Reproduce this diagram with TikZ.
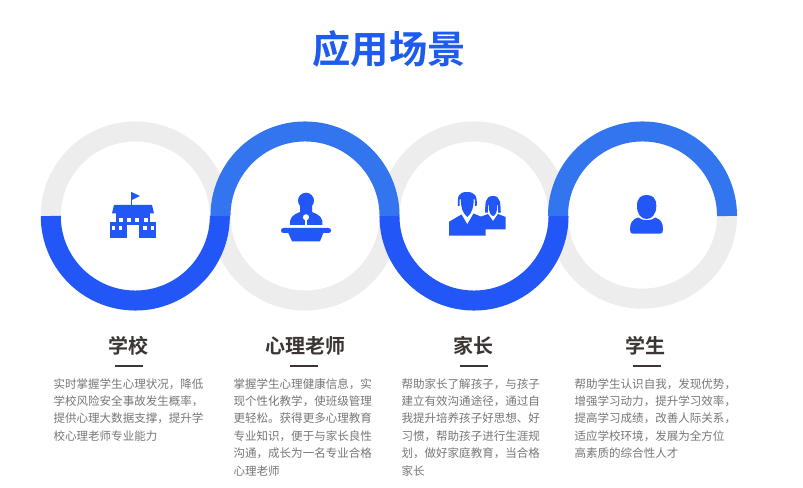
\documentclass[tikz,border=0pt]{standalone}
\usepackage{fontspec}
\setmainfont{Noto Sans CJK SC}
\newfontfamily\cjkbold[BoldFont={Noto Sans CJK SC Bold}]{Noto Sans CJK SC Bold}
\definecolor{deepblue}{HTML}{2356F6}
\definecolor{liteblue}{HTML}{3375EE}
\definecolor{ringgray}{HTML}{EDEDED}
\definecolor{bodygray}{HTML}{777777}
\definecolor{headdark}{HTML}{3B3533}
\definecolor{titleblue}{HTML}{1F5CEE}
\tikzset{
  ring/.style={line width=15pt,line cap=butt},
  bodytext/.style={anchor=north west,inner sep=0pt,align=left,text=bodygray,font=\fontsize{8.65}{13.05}\selectfont},
  headtext/.style={inner sep=0pt,text=headdark,font=\cjkbold\fontsize{15}{18}\selectfont},
  titletext/.style={inner sep=0pt,text=titleblue,font=\cjkbold\fontsize{28.7}{34}\selectfont},
  rulemark/.style={draw=headdark,line width=1.2pt},
  icon/.style={fill=deepblue,draw=none},
  iconcut/.style={fill=white,draw=none},
  iconslit/.style={draw=white,line width=0.55pt},
}
\newcommand{\topring}[2]{\draw[ring,#2] (#1) +(0:63.4pt) arc[start angle=0,end angle=180,radius=63.4pt];}
\newcommand{\botring}[2]{\draw[ring,#2] (#1) +(180:63.4pt) arc[start angle=180,end angle=360,radius=63.4pt];}
\begin{document}
\begin{tikzpicture}[x=0.75pt,y=-0.75pt]
\useasboundingbox (0,0) rectangle (803,488);
\fill[white] (0,0) rectangle (803,488);
\coordinate (c1) at (135.3,216);
\coordinate (c2) at (305,216);
\coordinate (c3) at (474,216);
\coordinate (c4) at (642.5,216);
% gray halves
\topring{c1}{ringgray}
\botring{c2}{ringgray}
\topring{c3}{ringgray}
\draw[ring,ringgray] (c4) +(180:63.4pt) arc[start angle=180,end angle=360,x radius=63.4pt,y radius=62pt];
% coloured halves
\botring{c1}{deepblue}
\topring{c2}{liteblue}
\botring{c3}{deepblue}
\topring{c4}{liteblue}

\node[titletext] (title) at (389,48.5) {应用场景};

% school icon
\fill[icon] (131,192.3) rectangle (132,205);
\fill[icon] (132,192.3) -- (140,196) -- (132,200) -- cycle;
\fill[icon] (114,205) -- (152,205) -- (154,213.3) -- (112,213.3) -- cycle;
\fill[icon] (116,213) rectangle (150,222);
\fill[icon] (110,221.7) rectangle (127,238.3);
\fill[icon] (139,221.7) rectangle (156,238.3);
\fill[icon] (127,221.7) rectangle (139,225);
\foreach \a in {118.7,127,135.3,143.7} \fill[iconcut] (\a,217.7) rectangle ++(4,4);
\foreach \a in {111.7,118.7,143.3,150.7} \fill[iconcut] (\a,225.7) rectangle ++(3.6,4);

% speaker icon
\fill[icon] (306,200.7) circle[radius=6pt];
\fill[icon] (290,225) .. controls (289.5,218) and (292,215) .. (300,212) -- (300,206) -- (312,206) -- (312,212) .. controls (320,215) and (323,218) .. (322.5,225) -- cycle;
\fill[iconcut] (306,217.3) circle[radius=2.3pt];
\fill[iconcut] (305.1,218) rectangle (306.9,225);
\fill[icon,rounded corners=1.8pt] (281,228) rectangle (331,233);
\fill[icon] (288.3,233) -- (323.3,233) -- (320,241.3) -- (292,241.3) -- cycle;

% parents icon: woman
\fill[icon] (480,229.3) -- (505.7,229.3) -- (505.7,217) -- (498,214) -- (493,221) -- (488,214) -- (480,217) -- cycle;
\fill[icon] (485,212.7) .. controls (485.5,204) and (484.5,196) .. (493,196) .. controls (501,196) and (500.3,204) .. (500.8,212.7) -- cycle;
\fill[iconcut] (487.6,205) -- (498.4,205) -- (498.4,213) -- (487.6,213) -- cycle;
\fill[icon] (488.6,205.2) .. controls (491,205) and (493,203.5) .. (494,202) .. controls (495,203.5) and (496,205) .. (497.4,205.2) .. controls (497.4,211) and (495.5,216) .. (493,216) .. controls (490.5,216) and (488.6,211) .. (488.6,205.2) -- cycle;
% parents icon: man
\fill[icon] (449,235.7) -- (485.7,235.7) -- (485.7,218.5) -- (473.5,213.5) -- (467.3,224.3) -- (461.5,214.5) -- (449,221.7) -- cycle;
\fill[icon] (458,206) .. controls (457,196) and (459,192) .. (467,192) .. controls (475,192) and (477.5,196) .. (476.7,206) -- (474.8,206) -- (474.8,199.5) -- (459.7,199.5) -- (459.7,206) -- cycle;
\fill[icon] (461,199) -- (473.5,199) .. controls (474,207) and (472,213) .. (467.3,217) .. controls (462.5,213) and (460.6,207) .. (461,199) -- cycle;

% person icon
\fill[icon] (630,229.5) .. controls (630,223) and (632,219.5) .. (638,217.5) .. controls (642,221) and (652,221) .. (655.5,217.5) .. controls (661,219.5) and (663,223) .. (663,229.5) .. controls (663,232.5) and (662,233.7) .. (660,233.7) -- (633,233.7) .. controls (631,233.7) and (630,232.5) .. (630,229.5) -- cycle;
\fill[iconcut] (637,214) .. controls (640,221.5) and (653,221.5) .. (656.3,214) -- cycle;
\fill[icon] (637,206) .. controls (637,198) and (641,195) .. (646.6,195) .. controls (652.5,195) and (656.3,198) .. (656.3,206) .. controls (656.3,214) and (652,219) .. (646.6,219) .. controls (641,219) and (637,214) .. (637,206) -- cycle;

% headings and rules
\node[headtext] (h1) at (128.5,345.7) {学校};
\node[headtext] (h2) at (305,345.7) {心理老师};
\node[headtext] (h3) at (473,345.7) {家长};
\node[headtext] (h4) at (645.5,345.7) {学生};
\coordinate (r1) at (129,366);
\coordinate (r2) at (304.3,366);
\coordinate (r3) at (474,366);
\coordinate (r4) at (646.5,366);
\draw[rulemark] (r1) +(-14,0) -- +(14,0);
\draw[rulemark] (r2) +(-14,0) -- +(14,0);
\draw[rulemark] (r3) +(-14,0) -- +(14,0);
\draw[rulemark] (r4) +(-14,0) -- +(14,0);

% body text
\node[bodytext] (t1) at (53.3,378) {实时掌握学生心理状况，降低\\学校风险安全事故发生概率，\\提供心理大数据支撑，提升学\\校心理老师专业能力};
\node[bodytext] (t2) at (233.3,378) {掌握学生心理健康信息，实\\现个性化教学，使班级管理\\更轻松。获得更多心理教育\\专业知识，便于与家长良性\\沟通，成长为一名专业合格\\心理老师};
\node[bodytext] (t3) at (401.3,378) {帮助家长了解孩子，与孩子\\建立有效沟通途径，通过自\\我提升培养孩子好思想、好\\习惯，帮助孩子进行生涯规\\划，做好家庭教育，当合格\\家长};
\node[bodytext] (t4) at (574.3,378) {帮助学生认识自我，发现优势，\\增强学习动力，提升学习效率，\\提高学习成绩，改善人际关系，\\适应学校环境，发展为全方位\\高素质的综合性人才};
\end{tikzpicture}
\end{document}
